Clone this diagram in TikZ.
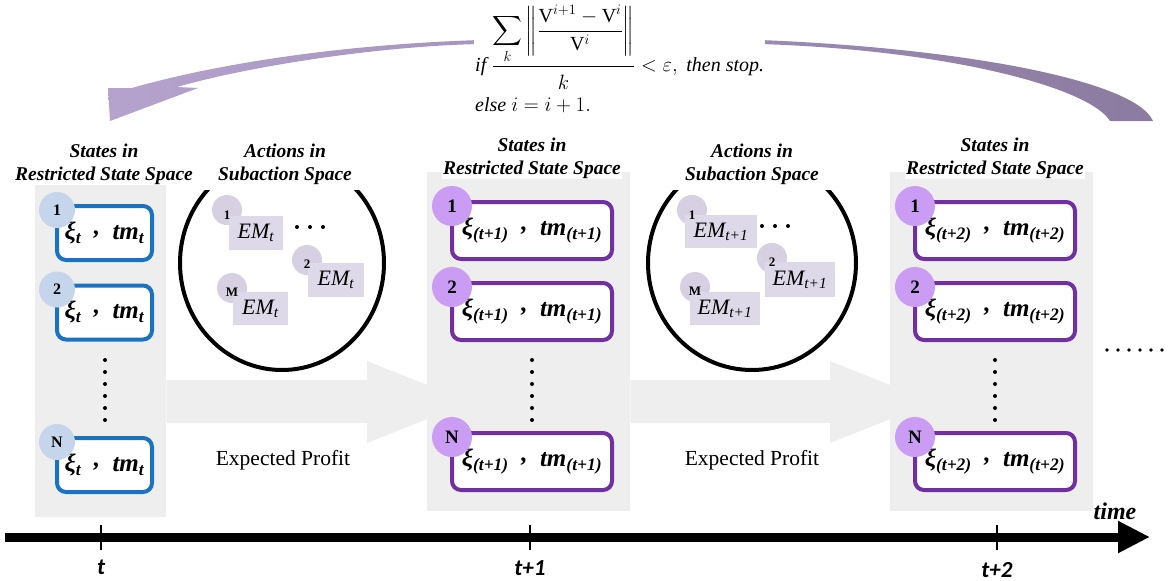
\documentclass[tikz,border=0pt]{standalone}
\usepackage{fontspec}
\setmainfont{Liberation Serif}
\newfontfamily\ticklabelfont{Carlito}
\usepackage{amsmath}
\usetikzlibrary{shapes.geometric,calc,arrows.meta}

\definecolor{panelgray}{RGB}{238,238,238}
\definecolor{boxblue}{RGB}{26,114,192}
\definecolor{dotblue}{RGB}{197,214,236}
\definecolor{boxpurple}{RGB}{112,48,160}
\definecolor{dotpurple}{RGB}{202,156,244}
\definecolor{emfill}{RGB}{222,217,233}
\definecolor{emdot}{RGB}{214,208,226}
\definecolor{loopleft}{RGB}{181,163,206}
\definecolor{loopright}{RGB}{139,123,160}

\tikzset{
  panel/.style={fill=panelgray, draw=none},
  heading/.style={font=\fontsize{19.5}{23}\selectfont\bfseries\itshape, align=center, fill=white, inner sep=1pt},
  statebox/.style={draw, line width=4pt, rounded corners=9pt, fill=white, inner sep=0pt,
    font=\fontsize{25}{28}\selectfont\bfseries\itshape},
  bluebox/.style={statebox, draw=boxblue, minimum width=95pt, minimum height=54pt},
  purplebox/.style={statebox, draw=boxpurple, minimum width=160pt, minimum height=57pt},
  bluenum/.style={circle, fill=dotblue, minimum size=36pt, inner sep=0pt, font=\fontsize{16}{18}\selectfont\bfseries},
  purplenum/.style={circle, fill=dotpurple, minimum size=40pt, inner sep=0pt, font=\fontsize{19}{21}\selectfont\bfseries},
  actionset/.style={ellipse, draw=black, line width=4pt, inner sep=0pt},
  emcircle/.style={circle, fill=emdot, minimum size=30pt, inner sep=0pt},
  emrect/.style={fill=emfill, inner sep=0pt, font=\fontsize{22}{24}\selectfont\itshape},
  emnum/.style={inner sep=0pt, font=\fontsize{13}{15}\selectfont\bfseries},
  profit/.style={font=\fontsize{21.5}{24}\selectfont},
  ticklab/.style={font=\ticklabelfont\fontsize{23}{25}\selectfont\bfseries\itshape}
}

\newcommand{\stpair}[1]{ξ\textsubscript{#1}\ \ \raisebox{0.45ex}{,}\ \ tm\textsubscript{#1}}

\begin{document}
\begin{tikzpicture}[x=1pt,y=-1pt]
\useasboundingbox (0,0) rectangle (1168,581);

% ---- grey state panels ----
\node[panel, anchor=north west, minimum width=131pt, minimum height=345pt, inner sep=0pt] (p1) at (35,172) {};
\node[panel, anchor=north west, minimum width=203pt, minimum height=339pt, inner sep=0pt] (p2) at (427,172) {};
\node[panel, anchor=north west, minimum width=203pt, minimum height=339pt, inner sep=0pt] (p3) at (890,172) {};

% ---- broad grey transition arrows ----
\fill[panelgray] (p1.east |- 0,380) -- (367,380) -- (367,361) -- (470,402) -- (367,443)
  -- (367,423) -- (p1.east |- 0,423) -- cycle;
\fill[panelgray] (p2.east |- 0,380) -- (830,380) -- (830,361) -- (933,402) -- (830,443)
  -- (830,423) -- (p2.east |- 0,423) -- cycle;

% ---- iteration loop arrow ----
\shade[left color=loopleft, right color=loopright]
  (110,121) -- (108,88) -- (132,88)
  .. controls (180,74) and (300,46) .. (480,40)
  -- (760,40)
  .. controls (960,48) and (1135,80) .. (1153,121)
  -- (1110,121)
  .. controls (1090,88) and (950,50) .. (760,44)
  -- (480,44)
  .. controls (380,46) and (250,66) .. (177,87)
  -- (198,88) -- cycle;

% ---- stopping rule ----
\node[fill=white, align=left, anchor=north west, inner sep=1pt, font=\fontsize{20}{24}\selectfont] (rule) at (474,4)
  {$\textit{if}\ \dfrac{\displaystyle\sum_{k}\left\|\frac{\mathrm{V}^{i+1}-\mathrm{V}^{i}}{\mathrm{V}^{i}}\right\|}{\rule{0pt}{21pt}k}<\varepsilon,\ \textit{then stop.}$\\[7pt]
   $\textit{else}\ i=i+1.$};

% ---- headings ----
\node[heading] (h1) at (104,164) {States in\\Restricted State Space};
\node[heading] (h2) at (532,158) {States in\\Restricted State Space};
\node[heading] (h3) at (995,158) {States in\\Restricted State Space};

% ---- action sets ----
\begin{scope}
  \clip (0,190) rectangle (1168,581);
  \node[actionset, minimum width=204pt, minimum height=214pt] (a1) at (282,263) {};
  \node[actionset, minimum width=208pt, minimum height=214pt] (a2) at (752,263) {};
\end{scope}
\node[heading, fill=none] (ha1) at (285,164) {Actions in\\Subaction Space};
\node[heading, fill=none] (ha2) at (752,164) {Actions in\\Subaction Space};

% ---- actions at t ----
\node[emcircle] (e1c) at (227,210) {};
\node[emcircle] (e2c) at (307,260) {};
\node[emcircle] (eMc) at (232,288) {};
\node[emrect, minimum width=54pt, minimum height=34pt] (e1) at (256,233) {EM\textsubscript{t}};
\node[emrect, minimum width=56pt, minimum height=34pt] (e2) at (336,280) {EM\textsubscript{t}};
\node[emrect, minimum width=55pt, minimum height=33pt] (eM) at (260.5,308.5) {EM\textsubscript{t}};
\node[emnum] at ($(e1c)+(0,5)$) {1};
\node[emnum] at ($(e2c)+(0,4)$) {2};
\node[emnum] at ($(eMc)+(0,4)$) {M};
\foreach \x in {297,310,323} \fill (\x,227) circle (2pt);

% ---- actions at t+1 ----
\node[emcircle] (f1c) at (692,210) {};
\node[emcircle] (f2c) at (772,258) {};
\node[emcircle] (fMc) at (695,287) {};
\node[emrect, minimum width=72pt, minimum height=33pt] (f1) at (721,231.5) {EM\textsubscript{t+1}};
\node[emrect, minimum width=70pt, minimum height=35pt] (f2) at (800,279.5) {EM\textsubscript{t+1}};
\node[emrect, minimum width=70pt, minimum height=33pt] (fM) at (725,308.5) {EM\textsubscript{t+1}};
\node[emnum] at ($(f1c)+(0,5)$) {1};
\node[emnum] at ($(f2c)+(0,4)$) {2};
\node[emnum] at ($(fMc)+(0,4)$) {M};
\foreach \x in {762,775,788} \fill (\x,226) circle (2pt);

% ---- states at t ----
\node[bluebox] (s11) at (104.5,233) {\stpair{t}};
\node[bluebox] (s12) at (104.5,312.5) {\stpair{t}};
\node[bluebox] (s1N) at (104.5,465) {\stpair{t}};
\node[bluenum] at ($(s11.north west)+(2,6)$) {1};
\node[bluenum] at ($(s12.north west)+(2,6)$) {2};
\node[bluenum] at ($(s1N.north west)+(2,6)$) {N};
\foreach \y in {360,372,...,420} \fill (105,\y) circle (2pt);

% ---- states at t+1 ----
\node[purplebox] (s21) at (532,230.5) {\stpair{(t+1)}};
\node[purplebox] (s22) at (532,311.5) {\stpair{(t+1)}};
\node[purplebox] (s2N) at (532,461.5) {\stpair{(t+1)}};
\node[purplenum] at ($(s21.north west)+(2,6)$) {1};
\node[purplenum] at ($(s22.north west)+(2,6)$) {2};
\node[purplenum] at ($(s2N.north west)+(2,6)$) {N};
\foreach \y in {360,372,...,420} \fill (532,\y) circle (2pt);

% ---- states at t+2 ----
\node[purplebox] (s31) at (995,230.5) {\stpair{(t+2)}};
\node[purplebox] (s32) at (995,311.5) {\stpair{(t+2)}};
\node[purplebox] (s3N) at (995,461.5) {\stpair{(t+2)}};
\node[purplenum] at ($(s31.north west)+(2,6)$) {1};
\node[purplenum] at ($(s32.north west)+(2,6)$) {2};
\node[purplenum] at ($(s3N.north west)+(2,6)$) {N};
\foreach \y in {360,372,...,420} \fill (995,\y) circle (2pt);

\foreach \x in {1107,1118,...,1162} \fill (\x,350) circle (1.8pt);

% ---- expected profit ----
\node[profit] (ep1) at (283,460) {Expected Profit};
\node[profit] (ep2) at (752,460) {Expected Profit};

% ---- time axis ----
\coordinate (axs) at (5,537);
\coordinate (axe) at (1150,537);
\draw[line width=9pt, -{Triangle[length=32pt,width=30pt]}] (axs) -- (axe);
\foreach \x in {101,530,997} \draw[line width=2pt] (\x,525) -- (\x,550);
\node[ticklab] (l1) at (101,567) {t};
\node[ticklab] (l2) at (530,568) {t+1};
\node[ticklab] (l3) at (997,570) {t+2};
\node[font=\fontsize{24}{26}\selectfont\bfseries\itshape] (tl) at (1115,511) {time};
\end{tikzpicture}
\end{document}
